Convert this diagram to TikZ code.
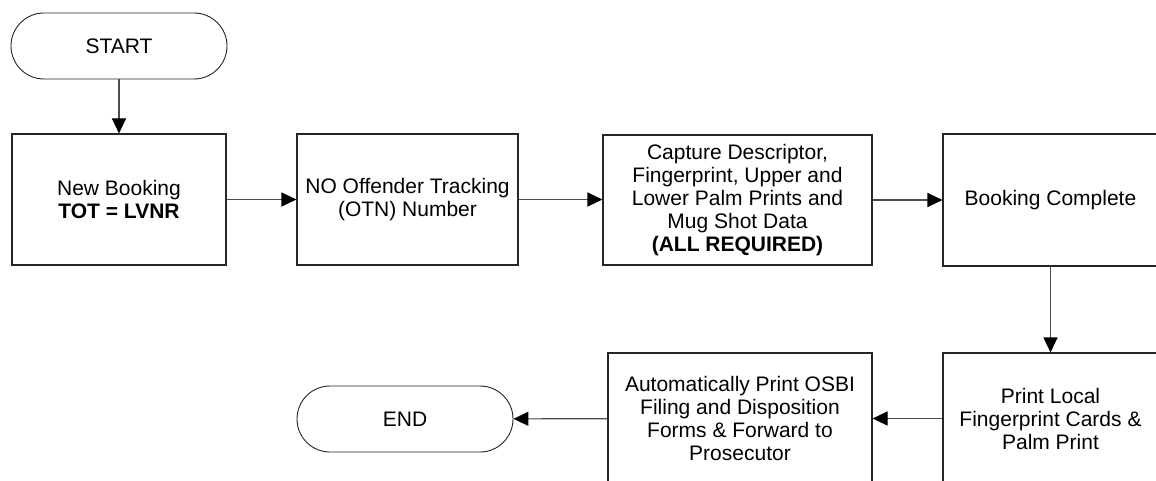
\documentclass[tikz,border=0pt]{standalone}
\usepackage{fontspec}
\setmainfont{Liberation Sans}
\usetikzlibrary{arrows.meta}
\begin{document}
\begin{tikzpicture}[x=1pt,y=-1pt,
  every node/.style={font=\fontsize{21}{23}\selectfont},
  procbox/.style={draw=black!85, line width=1.1pt, inner sep=0pt, align=center},
  termbox/.style={draw=black!85, line width=0.9pt, rounded corners=33pt, inner sep=0pt, minimum width=216pt, minimum height=66pt},
  flow/.style={draw=black!70, line width=1.1pt, -{Triangle[length=15pt,width=14pt,color=black]}}
]
\useasboundingbox (0,0) rectangle (1156,481);
\clip (0,0) rectangle (1156,481);
\fill[white] (0,0) rectangle (1156,481);

\node[termbox] (start) at (119,46) {START};
\node[procbox, minimum width=214pt, minimum height=131pt] (b1) at (119,199.5) {New Booking\\\textbf{TOT = LVNR}};
\node[procbox, minimum width=221pt, minimum height=131pt] (b2) at (407.5,199.5) {NO Offender Tracking\\(OTN) Number};
\node[procbox, minimum width=269pt, minimum height=130pt] (b3) at (737.5,200) {Capture Descriptor,\\Fingerprint, Upper and\\Lower Palm Prints and\\Mug Shot Data\\\textbf{(ALL REQUIRED)}};
\node[procbox, minimum width=215pt, minimum height=132pt] (b4) at (1050.5,200) {Booking Complete};
\node[procbox, minimum width=215pt, minimum height=131pt] (b5) at (1050.5,418.5) {Print Local\\Fingerprint Cards \&\\Palm Print};
\node[procbox, minimum width=264pt, minimum height=131pt] (b6) at (740,418.5) {Automatically Print OSBI\\Filing and Disposition\\Forms \& Forward to\\Prosecutor};
\node[termbox] (end) at (405,419) {END};

\draw[flow] (start) -- (b1);
\draw[flow] (b1) -- (b2);
\draw[flow] (b2.east) -- (b3.west |- b2.east);
\draw[flow] (b3) -- (b4);
\draw[flow] (b4) -- (b5);
\draw[flow] (b5) -- (b6);
\draw[flow] (b6) -- (end);
\end{tikzpicture}
\end{document}
